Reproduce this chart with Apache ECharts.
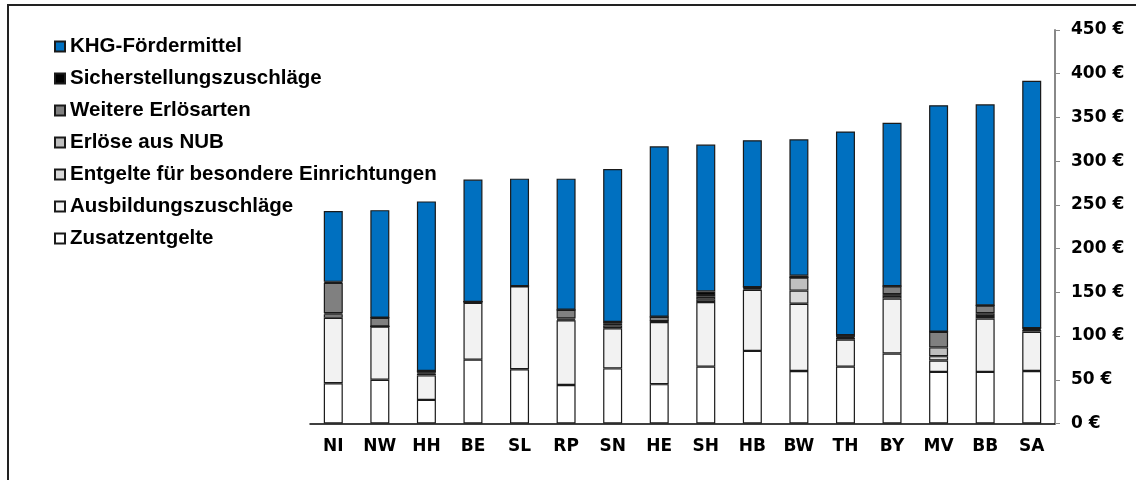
<!DOCTYPE html>
<html>
<head>
<meta charset="utf-8">
<title>Erlöse je Fall nach Bundesland</title>
<script src="https://cdn.jsdelivr.net/npm/echarts@6/dist/echarts.min.js"></script>
<style>
  html, body { margin: 0; padding: 0; background: #fff; }
  #chart { width: 1136px; height: 480px; }
</style>
</head>
<body>
<div id="chart"></div>
<script>
  // Kategorien (Bundeslaender) und Werte je Erloesart, in Euro
  var laender = ['NI', 'NW', 'HH', 'BE', 'SL', 'RP', 'SN', 'HE', 'SH', 'HB', 'BW', 'TH', 'BY', 'MV', 'BB', 'SA'];
  var zusatzentgelte = [46, 50, 27, 73, 62, 44, 63, 45, 65, 83, 60, 65, 80, 59, 59, 60];
  var ausbildung = [75, 61, 28, 65, 95, 74, 46, 71, 74, 70, 77, 31, 63, 13, 61, 45];
  var besEinrichtungen = [4, 0, 2, 1, 0, 1, 3, 1, 3, 1, 15, 2, 3, 5, 3, 2];
  var nub = [1, 0, 1, 0, 0, 1, 2, 0, 3, 1, 15, 1, 2, 10, 3, 1];
  var weitere = [35, 10, 2, 0, 0, 10, 2, 5, 2, 1, 0, 2, 9, 18, 9, 1];
  var sicherstellung = [1, 0, 0, 0, 0, 0, 0, 0, 4, 0, 2, 0, 0, 0, 0, 0];
  var khg = [81, 123, 194, 140, 123, 150, 175, 195, 168, 168, 156, 233, 187, 259, 230, 283];
  var yTicks = { min: 0, max: 450, step: 50 };

  var myChart = echarts.init(document.getElementById('chart'));
  var font = 'Liberation Sans, Arial, sans-serif';
  var axisFont = 'DejaVu Sans, sans-serif';

  function bar(name, data, color) {
    return {
      name: name,
      type: 'bar',
      stack: 'erloese',
      barWidth: 19,
      data: data,
      itemStyle: { color: color, borderColor: '#1a1a1a', borderWidth: 1.2 },
      emphasis: { disabled: true }
    };
  }

  var option = {
    animation: false,
    backgroundColor: '#fff',
    grid: { left: 310, right: 81, top: 30, bottom: 56.5 },
    legend: {
      orient: 'vertical',
      left: 54,
      top: 36,
      padding: 0,
      itemWidth: 10,
      itemHeight: 10,
      itemGap: 11,
      icon: 'rect',
      selectedMode: false,
      data: ['KHG-Fördermittel', 'Sicherstellungszuschläge', 'Weitere Erlösarten', 'Erlöse aus NUB',
             'Entgelte für besondere Einrichtungen', 'Ausbildungszuschläge', 'Zusatzentgelte'],
      textStyle: { fontFamily: font, fontSize: 20.5, fontWeight: 'bold', color: '#000', padding: [0, 0, 0, 0] }
    },
    xAxis: {
      type: 'category',
      data: laender,
      axisLine: { lineStyle: { color: '#000', width: 1.5 } },
      axisTick: { show: false },
      axisLabel: { margin: 15, fontFamily: axisFont, fontSize: 17, fontWeight: 'bold', color: '#000' }
    },
    yAxis: {
      type: 'value',
      position: 'right',
      min: yTicks.min,
      max: yTicks.max,
      interval: yTicks.step,
      splitLine: { show: false },
      axisLine: { show: true, lineStyle: { color: '#888', width: 2 } },
      axisTick: { show: true, length: 5, lineStyle: { color: '#888', width: 1 } },
      axisLabel: {
        margin: 16,
        fontFamily: axisFont, fontSize: 17, fontWeight: 'bold', color: '#000',
        formatter: '{value} €'
      }
    },
    graphic: [{
      type: 'rect',
      silent: true,
      shape: { x: 8, y: 5, width: 1400, height: 800 },
      style: { fill: 'none', stroke: '#222', lineWidth: 2 }
    }],
    series: [
      bar('Zusatzentgelte', zusatzentgelte, '#ffffff'),
      bar('Ausbildungszuschläge', ausbildung, '#f2f2f2'),
      bar('Entgelte für besondere Einrichtungen', besEinrichtungen, '#d9d9d9'),
      bar('Erlöse aus NUB', nub, '#bfbfbf'),
      bar('Weitere Erlösarten', weitere, '#808080'),
      bar('Sicherstellungszuschläge', sicherstellung, '#000000'),
      bar('KHG-Fördermittel', khg, '#0070c0')
    ]
  };

  myChart.setOption(option);
</script>
</body>
</html>
